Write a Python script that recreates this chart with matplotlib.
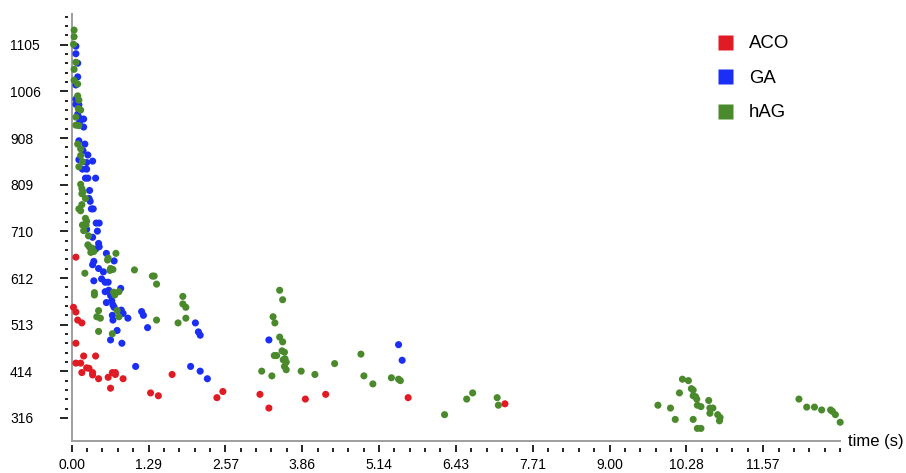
import numpy as np
import matplotlib
matplotlib.use("Agg")
import matplotlib.pyplot as plt
from matplotlib.lines import Line2D

plt.rcParams['font.family'] = ['Liberation Sans', 'DejaVu Sans']

# ---------------- data ----------------
aco_t = [0.07, 0.03, 0.07, 0.10, 0.17, 0.07, 0.20, 0.40, 0.07, 0.15, 0.25, 0.29, 0.17,
         0.35, 0.35, 0.45, 0.61, 0.68, 0.73, 0.73, 0.86, 0.65, 1.68, 1.32, 1.45, 2.43,
         2.53, 3.15, 3.30, 3.91, 4.25, 5.63, 7.25]
aco_v = [656, 550, 540, 523, 517, 474, 447, 447, 432, 432, 422, 421, 412,
         412, 407, 399, 402, 412, 412, 408, 399, 379, 408, 369, 363, 359,
         372, 366, 337, 356, 366, 359, 346]

ga_t = [0.07, 0.07, 0.10, 0.10, 0.07, 0.07, 0.07, 0.12, 0.10, 0.13, 0.20, 0.13, 0.20,
        0.12, 0.22, 0.19, 0.27, 0.12, 0.35, 0.25, 0.18, 0.25, 0.23, 0.27, 0.40, 0.30,
        0.29, 0.31, 0.33, 0.36, 0.41, 0.46, 0.25, 0.43, 0.35, 0.45, 0.46, 0.36, 0.40,
        0.58, 0.71, 0.37, 0.35, 0.45, 0.53, 0.37, 0.50, 0.56, 0.61, 0.56, 0.62, 0.82,
        0.65, 0.58, 0.67, 0.69, 0.71, 0.83, 0.86, 0.68, 1.17, 1.20, 0.94, 0.69, 1.27,
        2.07, 2.12, 2.15, 0.76, 0.65, 0.84, 1.07, 1.99, 2.15, 2.27, 3.30, 5.47, 5.53]
ga_v = [1102, 1086, 1066, 1037, 1020, 990, 979, 978, 958, 950, 948, 941, 931,
        902, 895, 881, 872, 862, 859, 856, 842, 842, 823, 823, 823, 797,
        780, 774, 758, 758, 728, 728, 715, 711, 698, 685, 678, 671, 673,
        664, 648, 647, 640, 632, 625, 606, 610, 603, 603, 583, 586, 590,
        575, 560, 564, 555, 550, 544, 537, 533, 541, 533, 527, 523, 507,
        517, 498, 491, 501, 481, 474, 425, 425, 415, 399, 481, 471, 438]

hag_t = [0.04, 0.04, 0.03, 0.07, 0.04, 0.04, 0.10, 0.10, 0.12, 0.11, 0.15, 0.07, 0.07,
         0.12, 0.10, 0.15, 0.15, 0.18, 0.12, 0.15, 0.17, 0.19, 0.17, 0.23, 0.17, 0.12,
         0.15, 0.23, 0.25, 0.18, 0.24, 0.20, 0.28, 0.27, 0.30, 0.34, 0.32, 0.37, 0.74,
         0.61, 0.60, 0.22, 0.65, 0.69, 0.64, 1.05, 1.35, 1.38, 1.42, 0.38, 0.38, 0.70,
         0.79, 0.72, 1.86, 1.86, 1.91, 0.45, 0.76, 0.42, 0.48, 0.79, 1.42, 1.78, 1.91,
         0.45, 0.68, 3.48, 3.53, 3.37, 3.40, 3.48, 3.53, 3.52, 3.56, 3.39, 3.43, 3.54,
         3.57, 3.59, 3.56, 3.59, 3.18, 3.35, 3.84, 4.07, 4.40, 4.84, 4.89, 5.04, 5.35,
         5.47, 5.50, 6.24, 6.61, 6.71, 7.12, 7.14, 9.81, 10.02, 10.10, 10.17, 10.22,
         10.32, 10.37, 10.40, 10.40, 10.44, 10.46, 10.47, 10.53, 10.40, 10.47, 10.53,
         10.66, 10.68, 10.73, 10.68, 10.81, 10.85, 10.84, 12.17, 12.30, 12.43, 12.55,
         12.70, 12.73, 12.78, 12.86]
hag_v = [1136, 1122, 1106, 1068, 1053, 1030, 1022, 997, 988, 970, 967, 952, 935,
         934, 895, 885, 871, 858, 847, 810, 801, 794, 790, 780, 767, 758,
         754, 738, 732, 724, 724, 712, 701, 682, 677, 675, 666, 668, 664,
         654, 650, 622, 632, 630, 628, 629, 616, 616, 599, 581, 576, 582,
         583, 576, 573, 557, 550, 543, 543, 530, 527, 530, 523, 517, 527,
         499, 494, 586, 566, 530, 517, 487, 477, 458, 455, 448, 448, 439,
         441, 434, 425, 418, 415, 405, 415, 408, 431, 451, 405, 388, 401,
         398, 395, 323, 356, 369, 359, 343, 343, 337, 313, 369, 398,
         395, 378, 375, 363, 361, 356, 343, 340, 313, 294, 294,
         353, 337, 337, 326, 323, 317, 310, 356, 339, 339, 333,
         333, 330, 323, 307]

series_names = ['ACO', 'GA', 'hAG']
series_colors = ['#e01b24', '#1a2ef5', '#4a8a2c']

x_tick_labels = ['0.00', '1.29', '2.57', '3.86', '5.14', '6.43', '7.71', '9.00', '10.28', '11.57']
y_tick_labels = ['316', '414', '513', '612', '710', '809', '908', '1006', '1105']

x_max = 90 / 7
y_min, y_max = 268.0, 1170.0

# ---------------- figure ----------------
W, H = 906, 473
fig = plt.figure(figsize=(W / 100, H / 100), dpi=100)
left_px, right_px, top_px, bottom_px = 71.7, 840.0, 14.0, 440.7
ax = fig.add_axes([left_px / W, (H - bottom_px) / H,
                   (right_px - left_px) / W, (bottom_px - top_px) / H])

for t, v, c in zip([aco_t, ga_t, hag_t], [aco_v, ga_v, hag_v], series_colors):
    ax.scatter(t, v, s=26, color=c, edgecolors='none', clip_on=False, zorder=3)

ax.set_xlim(0, x_max)
ax.set_ylim(y_min, y_max)

# ticks
x_major = np.arange(len(x_tick_labels)) * (x_max / 10)
x_minor = np.arange(0, 51) * (x_max / 50)
y_major = np.linspace(316, 1105, len(y_tick_labels))
y_step = (1105 - 316) / 8 / 5
y_minor = 316 + np.arange(0, 44) * y_step

ax.set_xticks(x_major, x_tick_labels)
ax.set_xticks(x_minor, minor=True)
ax.set_yticks(y_major, y_tick_labels)
ax.set_yticks(y_minor, minor=True)

px = 72 / 100  # points per pixel
for s in ['top', 'right']:
    ax.spines[s].set_visible(False)
ax.spines['left'].set_position(('outward', 3.4 * px))
ax.spines['bottom'].set_position(('outward', 11 * px))
ax.spines['left'].set_visible(False)
ax.spines['bottom'].set_visible(False)

tick_col = '#2a2a2a'
ax.tick_params(axis='y', which='major', direction='out', length=8.3 * px, width=2 * px,
               color=tick_col, pad=50 * px, labelsize=10, labelcolor='black')
ax.tick_params(axis='y', which='minor', direction='out', length=3.5 * px, width=2 * px,
               color=tick_col)
ax.tick_params(axis='x', which='major', direction='in', length=7 * px, width=2 * px,
               color=tick_col, pad=6 * px, labelsize=10, labelcolor='black')
ax.tick_params(axis='x', which='minor', direction='in', length=3.7 * px, width=2 * px,
               color=tick_col)
for lbl in ax.get_yticklabels():
    lbl.set_horizontalalignment('left')

# visible gray axis lines
axis_col = '#a0a0a0'
ax.axvline(0, color=axis_col, lw=2 * px, clip_on=False, zorder=2)
ax.axhline(y_min, color=axis_col, lw=2 * px, clip_on=False, zorder=2)

fig.text(848 / W, 1 - 441 / H, 'time (s)', ha='left', va='center', fontsize=12)

# legend
handles = [Line2D([], [], linestyle='none', marker='s', markersize=15 * px,
                  markerfacecolor=c, markeredgecolor='none') for c in series_colors]
ax.legend(handles, series_names, loc='upper left',
          bbox_to_anchor=(718 / W, 1 - 35 / H), bbox_transform=fig.transFigure,
          frameon=False, fontsize=13.4, handlelength=0.8, handletextpad=0.86,
          labelspacing=0.95, borderpad=0, borderaxespad=0)

fig.savefig('out.png', dpi=100)
